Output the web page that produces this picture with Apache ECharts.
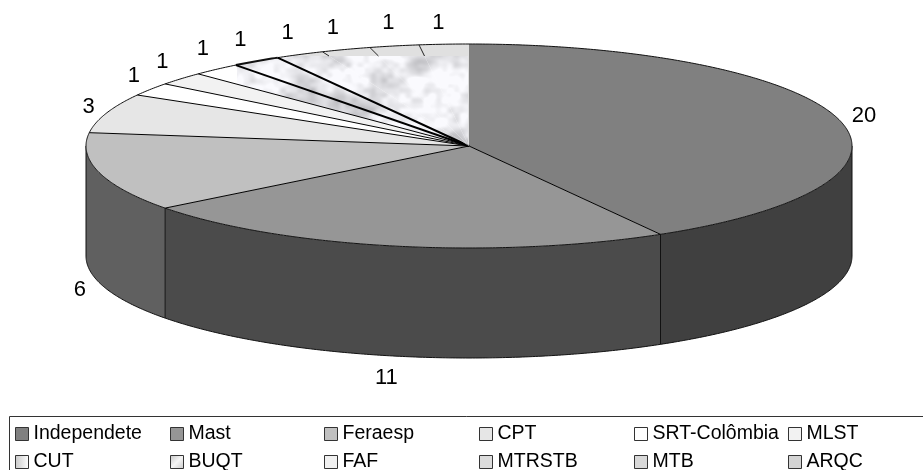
<!DOCTYPE html>
<html lang="en">
<head>
    <meta charset="UTF-8">
    <title>pie 3d</title>
    <script src="https://cdn.jsdelivr.net/npm/echarts@6/dist/echarts.min.js"></script>
    <style type="text/css">
        html, body { margin: 0; padding: 0; background: #ffffff; }
        #main { width: 923px; height: 470px; }
    </style>
</head>
<body>
<div id="main"></div>
<script>
    const categories = ['Independete', 'Mast', 'Feraesp', 'CPT', 'SRT-Colômbia', 'MLST', 'CUT', 'BUQT', 'FAF', 'MTRSTB', 'MTB', 'ARQC'];
    const values = [20, 11, 6, 3, 1, 1, 1, 1, 1, 1, 1, 1];

    // styles, one per slice
    const topColors = ['#808080', '#969696', '#c0c0c0', '#e6e6e6', '#ffffff', '#f2f2f2', null, null, null, null, null, null];
    const sideColors = ['#404040', '#4b4b4b', '#606060'];
    const swatchColors = ['#808080', '#969696', '#c0c0c0', '#e6e6e6', '#ffffff', '#f2f2f2',
        {type: 'linear', x: 0, y: 0, x2: 1, y2: 0, colorStops: [{offset: 0, color: '#c8c8c8'}, {offset: 1, color: '#ffffff'}]},
        {type: 'linear', x: 0, y: 0, x2: 1, y2: 1, colorStops: [{offset: 0, color: '#c4c4c4'}, {offset: 0.5, color: '#f4f4f4'}, {offset: 1, color: '#c8c8c8'}]},
        '#f0f0f0', '#dcdcdc', '#d8d8d8', '#d4d4d4'];
    // small hand nudges for the value labels, [dx, dy]
    const labelNudge = [[1, 3], [-3, -3], [5, 1], [6, 2], [4, 0], [0, 0], [3, -2], [-2, 0], [-1, 1], [-5, 2], [-1, 1], [-4, 4]];

    const cx = 469, cy = 146, rx = 383, ry = 102, depth = 110;
    const labelRx = 408, labelRy = 127;
    const texLeft = 237, texTop = 56, texRight = 468, texBottom = 146;
    const total = values.reduce((a, b) => a + b, 0);

    // marble fill for the small slices, aligned with the page
    function fract(v) { return v - Math.floor(v); }
    function hash(x, y) { return fract(Math.sin(x * 127.1 + y * 311.7) * 43758.5453); }
    function noise(x, y) {
        let ix = Math.floor(x), iy = Math.floor(y);
        let fx = x - ix, fy = y - iy;
        fx = fx * fx * (3 - 2 * fx);
        fy = fy * fy * (3 - 2 * fy);
        let a = hash(ix, iy) * (1 - fx) + hash(ix + 1, iy) * fx;
        let b = hash(ix, iy + 1) * (1 - fx) + hash(ix + 1, iy + 1) * fx;
        return a * (1 - fy) + b * fy;
    }
    function makeTexture() {
        let c = document.createElement('canvas');
        c.width = 923;
        c.height = 470;
        let ctx = c.getContext('2d');
        ctx.fillStyle = '#e0e0e0';
        ctx.fillRect(0, 0, 923, 470);
        ctx.fillStyle = '#ffffff';
        ctx.fillRect(0, 0, texLeft, 470);
        for (let y = texTop; y < texBottom; y++) {
            for (let x = texLeft; x < texRight; x++) {
                let n = 0.5 * noise(x / 30, y / 20) + 0.3 * noise(x / 13 + 9, y / 9 + 3) + 0.2 * noise(x / 6 + 5, y / 5);
                let g = Math.max(190, Math.min(250, 226 + (n - 0.5) * 130));
                ctx.fillStyle = 'rgb(' + Math.round(g) + ',' + Math.round(g) + ',' + Math.round(g + 4) + ')';
                ctx.fillRect(x, y, 1, 1);
            }
        }
        return c;
    }
    const texture = makeTexture();

    // angle in degrees, clockwise from 12 o'clock
    function rim(deg, drop) {
        let a = deg * Math.PI / 180;
        return [cx + rx * Math.sin(a), cy - ry * Math.cos(a) + (drop || 0)];
    }
    function arc(from, to, drop) {
        let pts = [];
        let n = Math.max(2, Math.ceil((to - from) * 2));
        for (let k = 0; k <= n; k++) {
            pts.push(rim(from + (to - from) * k / n, drop));
        }
        return pts;
    }
    function line(points, color, width) {
        return {
            type: 'polyline',
            shape: {points: points},
            style: {fill: null, stroke: color, lineWidth: width}
        };
    }

    function renderSlice(i) {
        return function (params, api) {
            let before = values.slice(0, i).reduce((a, b) => a + b, 0);
            let start = before / total * 360;
            let end = (before + api.value(0)) / total * 360;
            let mid = (start + end) / 2;
            let children = [];

            // front wall
            let wallFrom = Math.max(start, 90), wallTo = Math.min(end, 270);
            if (wallFrom < wallTo) {
                let upper = arc(wallFrom, wallTo, 0);
                let lower = arc(wallFrom, wallTo, depth);
                children.push({
                    type: 'polygon',
                    shape: {points: upper.concat(lower.slice().reverse())},
                    style: {fill: sideColors[i], stroke: null}
                });
                children.push(line(lower, '#111111', 1));
                children.push(line([rim(wallFrom, 0), rim(wallFrom, depth)], '#111111', 1));
                if (wallTo === 270) {
                    children.push(line([rim(270, 0), rim(270, depth)], '#111111', 1));
                }
            }

            // top
            let outer = arc(start, end, 0);
            children.push({
                type: 'polygon',
                shape: {points: [[cx, cy]].concat(outer)},
                style: {fill: topColors[i] || {image: texture, repeat: 'no-repeat'}, stroke: null}
            });

            // rim and spoke; the texture hides the spokes of the last slices
            let thick = i === 7 || i === 8;
            children.push(line(outer, '#111111', i === 7 ? 2 : 1));
            if (i > 0) {
                let p = rim(start, 0);
                if (i > 8) {
                    let t = (cy - texTop) / (cy - p[1]);
                    children.push(line([p, [cx + (p[0] - cx) * t, cy + (p[1] - cy) * t]], '#222222', 1));
                } else {
                    children.push(line([p, [cx, cy]], '#000000', thick ? 2 : 1));
                }
            }

            // value label
            let a = mid * Math.PI / 180;
            let front = mid > 90 && mid < 270;
            children.push({
                type: 'text',
                style: {
                    x: cx + labelRx * Math.sin(a) + labelNudge[i][0],
                    y: cy - labelRy * Math.cos(a) + (front ? depth : 0) + labelNudge[i][1],
                    text: String(api.value(0)),
                    fill: '#000000',
                    font: '22px "Liberation Sans", Arial, sans-serif',
                    align: 'center',
                    verticalAlign: 'middle'
                }
            });
            return {type: 'group', children: children};
        };
    }

    var myChart = echarts.init(document.getElementById('main'), null, {renderer: 'canvas'});

    const columnLeft = [15, 170, 324, 479, 634, 788];
    const rowTop = [424, 452];
    let legends = categories.map(function (name, k) {
        return {
            orient: 'horizontal',
            left: columnLeft[k % 6],
            top: rowTop[Math.floor(k / 6)],
            itemWidth: 13,
            itemHeight: 13,
            padding: 0,
            icon: 'rect',
            textStyle: {
                fontFamily: '"Liberation Sans", Arial, sans-serif',
                fontSize: 19.5,
                color: '#000000',
                padding: [0, 0, 2, 0]
            },
            data: [{
                name: name,
                itemStyle: {color: swatchColors[k], borderColor: '#333333', borderWidth: 1}
            }]
        };
    });

    var option = {
        animation: false,
        backgroundColor: '#ffffff',
        legend: legends,
        graphic: [{
            type: 'rect',
            shape: {x: 9.5, y: 416.5, width: 1000, height: 100},
            style: {fill: null, stroke: '#333333', lineWidth: 1},
            silent: true
        }],
        series: categories.map(function (name, i) {
            return {
                type: 'custom',
                name: name,
                coordinateSystem: 'none',
                data: [values[i]],
                silent: true,
                renderItem: renderSlice(i)
            };
        })
    };
    myChart.setOption(option);
</script>
</body>
</html>
